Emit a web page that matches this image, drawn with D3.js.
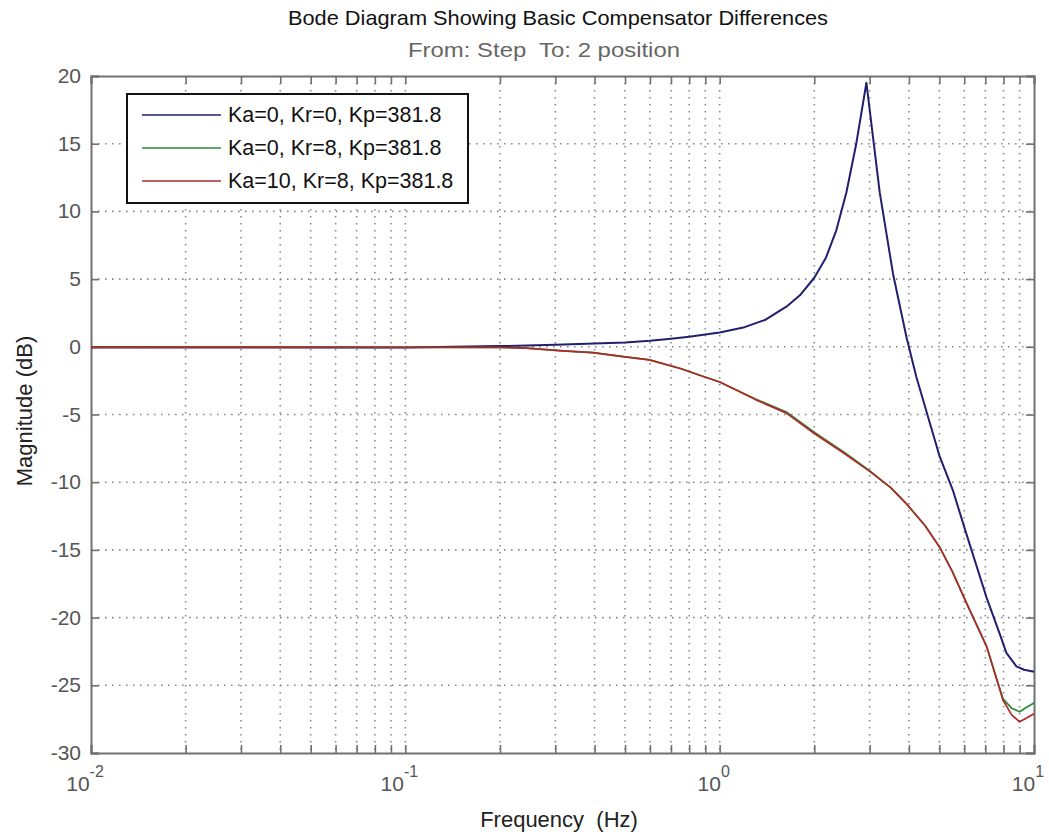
<!DOCTYPE html>
<html><head><meta charset="utf-8">
<script src="https://cdn.jsdelivr.net/npm/d3@7"></script>
<style>
html,body{margin:0;padding:0;background:#fff;}
svg{display:block;font-family:"Liberation Sans",Arial,sans-serif;}
</style></head>
<body>
<svg id="chart" width="1049" height="832"></svg>
<script>
// ---- data ----
const seriesNames = ["Ka=0, Kr=0, Kp=381.8", "Ka=0, Kr=8, Kp=381.8", "Ka=10, Kr=8, Kp=381.8"];
const seriesColors = ["#20206e", "#2f8a35", "#b02a2a"];

const blueFreq = [0.01, 0.1, 0.2, 0.3, 0.4, 0.5, 0.6, 0.7, 0.8, 0.9, 1.0, 1.2, 1.4, 1.63, 1.8, 2.0, 2.18, 2.35, 2.53, 2.72, 2.93, 3.23, 3.56, 3.93, 4.22, 5.01, 5.52, 6.09, 7.06, 7.78, 8.17, 8.79, 9.3, 10];
const blueMag  = [-0.05, -0.05, 0.05, 0.15, 0.25, 0.32, 0.45, 0.6, 0.75, 0.9, 1.05, 1.45, 2.0, 2.96, 3.8, 5.1, 6.6, 8.6, 11.4, 15.0, 19.5, 11.4, 5.4, 0.7, -2.2, -8.1, -10.6, -13.8, -18.5, -21.2, -22.6, -23.6, -23.85, -24.0];

const greenFreq = [0.01, 0.2, 0.243, 0.317, 0.395, 0.493, 0.598, 0.75, 0.864, 1.0, 1.3, 1.63, 2.0, 2.5, 3.0, 3.5, 3.93, 4.5, 5.01, 5.5, 6.09, 7.06, 7.97, 8.5, 9.0, 9.5, 10];
const greenMag  = [0, -0.05, -0.1, -0.3, -0.43, -0.73, -0.97, -1.6, -2.1, -2.6, -3.85, -4.82, -6.3, -7.82, -9.15, -10.4, -11.6, -13.2, -14.8, -16.6, -18.9, -22.1, -26.0, -26.7, -26.95, -26.6, -26.3];

const redFreq = [0.01, 0.2, 0.243, 0.317, 0.395, 0.493, 0.598, 0.75, 0.864, 1.0, 1.3, 1.63, 2.0, 2.5, 3.0, 3.5, 3.93, 4.5, 5.01, 5.5, 6.09, 7.06, 7.97, 8.5, 9.0, 9.5, 10];
const redMag  = [0, -0.05, -0.1, -0.3, -0.43, -0.73, -0.97, -1.6, -2.1, -2.6, -3.9, -4.9, -6.4, -7.9, -9.2, -10.4, -11.6, -13.2, -14.8, -16.6, -18.9, -22.1, -26.1, -27.2, -27.7, -27.4, -27.1];

const yTicks = [-30, -25, -20, -15, -10, -5, 0, 5, 10, 15, 20];
const xMajorTicks = [0.01, 0.1, 1, 10];
const xTickExponents = ["-2", "-1", "0", "1"];

const titleText = "Bode Diagram Showing Basic Compensator Differences";
const subtitleText = "From: Step  To: 2 position";
const xLabel = "Frequency  (Hz)";
const yLabel = "Magnitude (dB)";

// ---- layout ----
const svg = d3.select("#chart");
const L = 91, R = 1034, T = 76, B = 753;
const x = d3.scaleLog().domain([0.01, 10]).range([L, R]);
const y = d3.scaleLinear().domain([-30, 20]).range([B, T]);

const axisColor = "#707070", labelColor = "#555", gridColor = "#8a8a8a";

// grid
const allX = x.ticks();
const grid = svg.append("g");
grid.selectAll("line.gx").data(allX.filter(v => v > 0.01 && v < 10)).join("line")
  .attr("x1", d => x(d)).attr("x2", d => x(d)).attr("y1", T).attr("y2", B)
  .attr("stroke", gridColor).attr("stroke-width", 1.6).attr("stroke-dasharray", "1.6,5.4");
grid.selectAll("line.gy").data(yTicks.filter(v => v > -30 && v < 20)).join("line")
  .attr("x1", L).attr("x2", R).attr("y1", d => y(d)).attr("y2", d => y(d))
  .attr("stroke", gridColor).attr("stroke-width", 1.6).attr("stroke-dasharray", "1.6,5.4");

// axes (ticks inward) using d3 axes
const tl = 8;
const fmtNone = () => "";
svg.append("g").attr("transform", `translate(0,${B})`)
  .call(d3.axisBottom(x).tickValues(allX).tickSize(-tl).tickFormat(fmtNone));
svg.append("g").attr("transform", `translate(0,${T})`)
  .call(d3.axisTop(x).tickValues(allX).tickSize(-tl).tickFormat(fmtNone));
svg.append("g").attr("transform", `translate(${L},0)`)
  .call(d3.axisLeft(y).tickValues(yTicks).tickSize(-tl).tickFormat(fmtNone));
svg.append("g").attr("transform", `translate(${R},0)`)
  .call(d3.axisRight(y).tickValues(yTicks).tickSize(-tl).tickFormat(fmtNone));
svg.selectAll(".domain").attr("stroke", axisColor).attr("stroke-width", 2);
svg.selectAll(".tick line").attr("stroke", axisColor).attr("stroke-width", 1.6);

// y tick labels
svg.append("g").selectAll("text").data(yTicks).join("text")
  .attr("x", L - 10).attr("y", d => y(d) + 7)
  .attr("text-anchor", "end").attr("font-size", 21).attr("fill", labelColor)
  .text(d => d);

// x tick labels 10^n
const xl = svg.append("g");
xMajorTicks.forEach((v, i) => {
  const t = xl.append("text").attr("x", x(v) - 6).attr("y", B + 38)
    .attr("text-anchor", "middle").attr("font-size", 21).attr("fill", labelColor);
  t.append("tspan").text("10");
  t.append("tspan").attr("dy", -14).attr("font-size", 16).text(xTickExponents[i]);
});

// lines
const line = d3.line().x(d => x(d[0])).y(d => y(d[1]));
const series = [
  d3.zip(blueFreq, blueMag),
  d3.zip(greenFreq, greenMag),
  d3.zip(redFreq, redMag)
];
svg.append("g").selectAll("path").data(series).join("path")
  .attr("d", line).attr("fill", "none")
  .attr("stroke", (d, i) => seriesColors[i]).attr("stroke-width", (d, i) => i === 0 ? 2 : 1.7)
  .attr("stroke-linejoin", "round");

// titles
svg.append("text").attr("x", 558).attr("y", 25).attr("text-anchor", "middle")
  .attr("font-size", 21).attr("fill", "#111")
  .attr("textLength", 540).attr("lengthAdjust", "spacingAndGlyphs").text(titleText);
svg.append("text").attr("x", 544).attr("y", 57).attr("text-anchor", "middle")
  .attr("font-size", 21).attr("fill", "#666").attr("xml:space", "preserve")
  .attr("textLength", 272).attr("lengthAdjust", "spacingAndGlyphs").text(subtitleText);
svg.append("text").attr("x", 559).attr("y", 827).attr("text-anchor", "middle")
  .attr("font-size", 22).attr("fill", "#222").attr("xml:space", "preserve").text(xLabel);
svg.append("text").attr("transform", `translate(32,411) rotate(-90)`).attr("text-anchor", "middle")
  .attr("font-size", 22).attr("fill", "#222").text(yLabel);

// legend
const lg = svg.append("g");
lg.append("rect").attr("x", 127).attr("y", 94).attr("width", 341).attr("height", 109)
  .attr("fill", "#fff").attr("stroke", "#111").attr("stroke-width", 2);
seriesNames.forEach((n, i) => {
  const yy = 115 + i * 33;
  lg.append("line").attr("x1", 142).attr("x2", 221).attr("y1", yy).attr("y2", yy)
    .attr("stroke", seriesColors[i]).attr("stroke-width", 1.7);
  lg.append("text").attr("x", 228).attr("y", yy + 7).attr("font-size", 21.5)
    .attr("fill", "#111").text(n);
});
</script>
</body></html>
